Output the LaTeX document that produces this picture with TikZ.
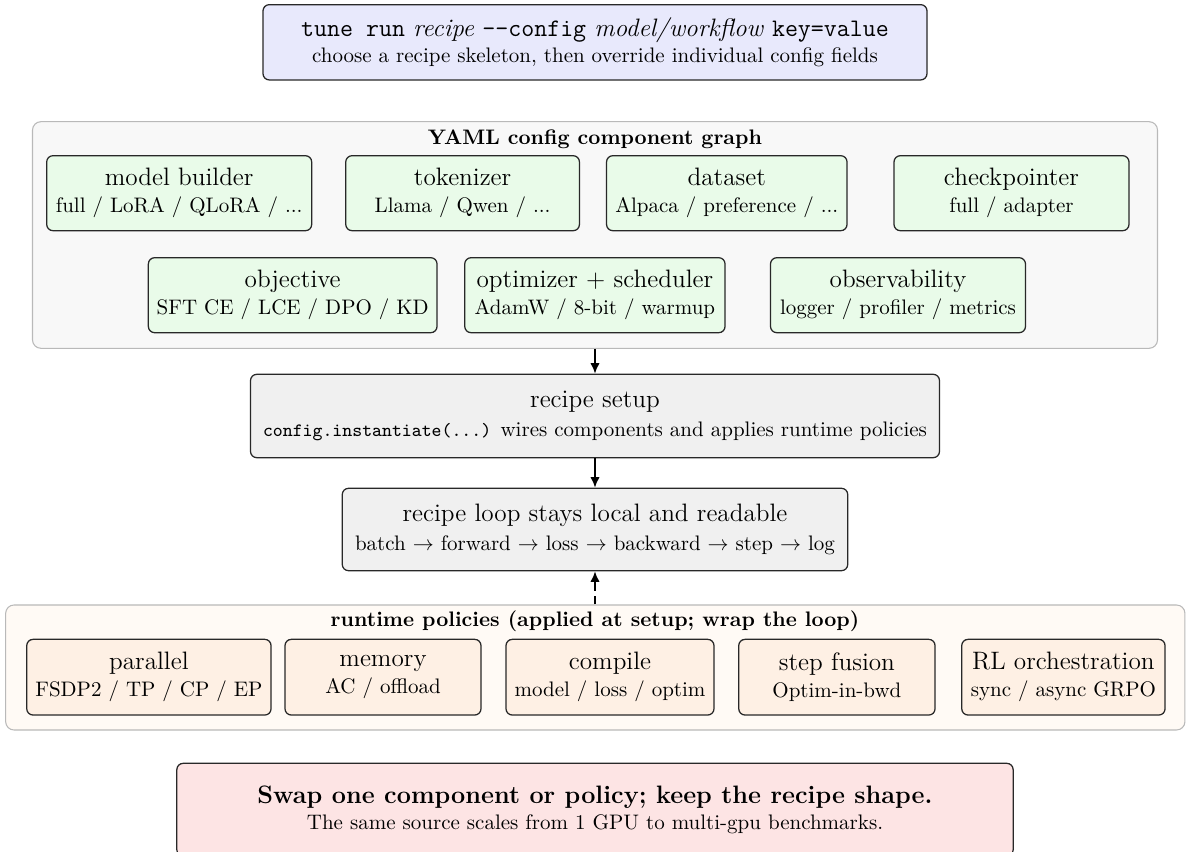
\documentclass[tikz,border=0pt]{standalone}
\usetikzlibrary{arrows.meta}
\definecolor{topfill}{RGB}{232,233,252}
\definecolor{yamlfill}{RGB}{248,248,248}
\definecolor{yamldraw}{RGB}{185,185,185}
\definecolor{compfill}{RGB}{233,251,233}
\definecolor{stepfill}{RGB}{240,240,240}
\definecolor{rtfill}{RGB}{255,250,245}
\definecolor{polfill}{RGB}{254,240,228}
\definecolor{swapfill}{RGB}{253,228,228}
\definecolor{boxdraw}{RGB}{40,40,40}
\newcommand\PX{0.47619pt}
\tikzset{
  basebox/.style={draw=boxdraw, line width=0.6pt, rounded corners=3pt, align=center, inner sep=0pt, font=\normalsize},
  topbox/.style={basebox, fill=topfill},
  compbox/.style={basebox, fill=compfill},
  stagebox/.style={basebox, fill=stepfill},
  polbox/.style={basebox, fill=polfill},
  swapbox/.style={basebox, fill=swapfill},
  groupbox/.style={draw=yamldraw, line width=0.5pt, rounded corners=4pt, inner sep=0pt},
  hdr/.style={font=\normalsize\bfseries, inner sep=0pt},
  arr/.style={line width=0.9pt, -{Latex[length=5pt,width=4.5pt]}},
  sz/.style 2 args={minimum width=#1*\PX, minimum height=#2*\PX},
}
\begin{document}
\begin{tikzpicture}[x=0.47619pt, y=-0.47619pt]
\clip (0,0) rectangle (1188,852);

% top command box
\node[topbox, sz={664}{75.3}] (cmd) at (595,42.3)
  {{\large\texttt{tune run} \textit{recipe} \texttt{--config} \textit{model/workflow} \texttt{key=value}}\\[0.7pt]
   choose a recipe skeleton, then override individual config fields};

% YAML container
\node[groupbox, fill=yamlfill, sz={1125}{226.6}] (yaml) at (595,235) {};
\node[hdr] (yamlhdr) at (595,139) {YAML config component graph};

\node[compbox, sz={265}{75}] (model) at (179.2,193.2) {{\large model builder}\\[0.7pt]full / LoRA / QLoRA / ...};
\node[compbox, sz={233.7}{75}] (tok) at (462.6,193.2) {{\large tokenizer}\\[0.7pt]Llama / Qwen / ...};
\node[compbox, sz={240.5}{75}] (data) at (726.8,193.2) {{\large dataset}\\[0.7pt]Alpaca / preference / ...};
\node[compbox, sz={235}{75}] (ckpt) at (1011.5,193.2) {{\large checkpointer}\\[0.7pt]full / adapter};

\node[compbox, sz={288.7}{75}] (obj) at (292.7,295.2) {{\large objective}\\[0.7pt]SFT CE / LCE / DPO / KD};
\node[compbox, sz={260.3}{75}] (opt) at (594.9,295.2) {{\large optimizer + scheduler}\\[0.7pt]AdamW / 8-bit / warmup};
\node[compbox, sz={255}{75}] (obs) at (898,295.2) {{\large observability}\\[0.7pt]logger / profiler / metrics};

% recipe setup and loop
\node[stagebox, sz={689}{83.4}] (setup) at (595,416)
  {{\large recipe setup}\\[1.5pt]{\small\texttt{config.instantiate(...)}} wires components and applies runtime policies};
\node[stagebox, sz={505.5}{82.4}] (loop) at (595,529.5)
  {{\large recipe loop stays local and readable}\\[1.5pt]batch $\rightarrow$ forward $\rightarrow$ loss $\rightarrow$ backward $\rightarrow$ step $\rightarrow$ log};

% runtime policies container
\node[groupbox, fill=rtfill, sz={1179.3}{125}] (runtime) at (595.3,667.5) {};
\node[hdr] (rthdr) at (595,621) {runtime policies (applied at setup; wrap the loop)};

\node[polbox, sz={244.3}{75.7}] (par) at (148.9,677.2) {{\large parallel}\\[0.7pt]FSDP2 / TP / CP / EP};
\node[polbox, sz={196}{75.7}] (mem) at (383,677.2) {{\large memory}\\[0.7pt]AC / offload};
\node[polbox, sz={208}{75.7}] (cmp) at (610,677.2) {{\large compile}\\[0.7pt]model / loss / optim};
\node[polbox, sz={196.3}{75.7}] (fus) at (836.9,677.2) {{\large step fusion}\\[0.7pt]Optim-in-bwd};
\node[polbox, sz={203.3}{75.7}] (rl) at (1063.4,677.2) {{\large RL orchestration}\\[0.7pt]sync / async GRPO};

% bottom message
\node[swapbox, sz={836.3}{92.7}] (swap) at (595,809.7)
  {{\large\bfseries Swap one component or policy; keep the recipe shape.}\\[0.5pt]
   The same source scales from 1 GPU to multi-gpu benchmarks.};

% connectors
\draw[arr] (yaml.south) -- (setup.north);
\draw[arr] (setup.south) -- (loop.north);
\draw[arr, dash pattern=on 4pt off 2.5pt] (runtime.north -| loop.south) -- (loop.south);
\end{tikzpicture}
\end{document}
